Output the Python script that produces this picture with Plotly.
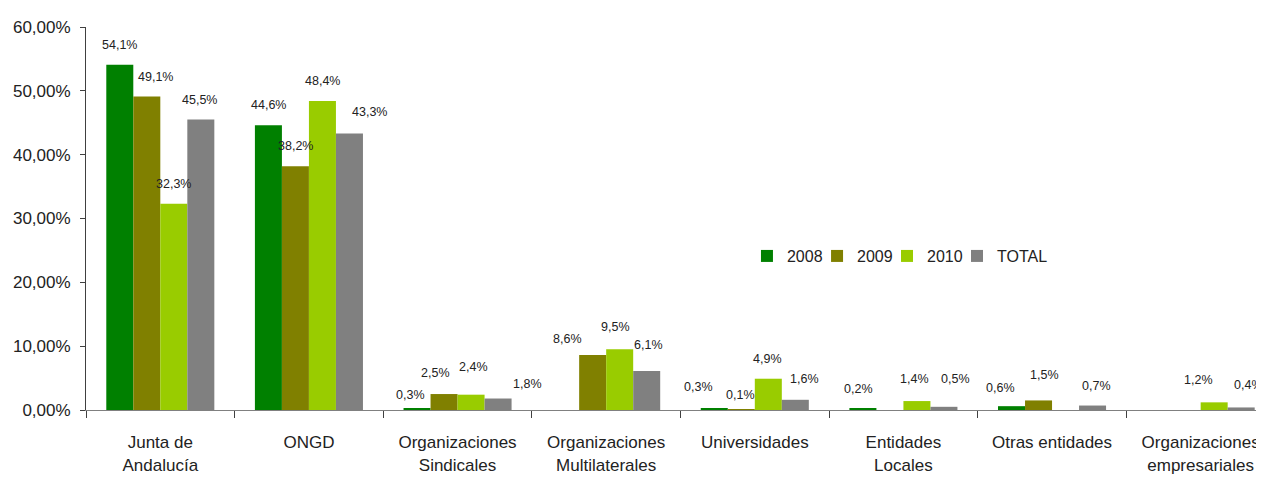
import plotly.graph_objects as go

categories = ["Junta de<br>Andalucía", "ONGD", "Organizaciones<br>Sindicales",
              "Organizaciones<br>Multilaterales", "Universidades", "Entidades<br>Locales",
              "Otras entidades", "Organizaciones<br>empresariales"]
series_names = ["2008", "2009", "2010", "TOTAL"]
v2008 = [54.1, 44.6, 0.3, None, 0.3, 0.2, 0.6, None]
v2009 = [49.1, 38.2, 2.5, 8.6, 0.1, None, 1.5, None]
v2010 = [32.3, 48.4, 2.4, 9.5, 4.9, 1.4, None, 1.2]
vtotal = [45.5, 43.3, 1.8, 6.1, 1.6, 0.5, 0.7, 0.4]
y_tickvals = [0, 10, 20, 30, 40, 50, 60]
y_ticktext = ["0,00%", "10,00%", "20,00%", "30,00%", "40,00%", "50,00%", "60,00%"]

colors = ["#008000", "#808000", "#99CC00", "#808080"]
series = [v2008, v2009, v2010, vtotal]
legend_ids = ["legend", "legend2", "legend3", "legend4"]
legend_x = [0.5573, 0.6164, 0.6754, 0.7344]

# label pixel offsets (dx, dy) per series per category, styling only
label_dx = [
    [0, 0, -7, 0, -16, -4, -11, 0],
    [9, 0, -9, -25, -1, 0, 6, 0],
    [0, 0, 2, -4, -1, -2, 0, -16],
    [-1, 20, 29, 2, 9, 12, 4, 7],
]
label_dy = [
    [20, 20, 13, 20, 21, 20, 18, 20],
    [20, 20, 21, 16, 14, 20, 25, 20],
    [20, 20, 28, 22, 20, 22, 20, 22],
    [20, 22, 15, 26, 21, 28, 20, 22],
]

FONT = "Liberation Sans, Arial, sans-serif"
bargap = 0.273

fig = go.Figure()
for name, vals, col, lg in zip(series_names, series, colors, legend_ids):
    fig.add_trace(go.Bar(x=categories, y=vals, name=name, marker_color=col,
                         marker_line_width=0, legend=lg))

n = len(series)
barw = (1 - bargap) / n
annotations = []
for i, vals in enumerate(series):
    for j, v in enumerate(vals):
        if v is None:
            continue
        annotations.append(dict(
            x=j + (i - (n - 1) / 2) * barw, y=v, xref="x", yref="y",
            text=f"{v:.1f}%".replace(".", ","), showarrow=False,
            xanchor="center", yanchor="middle",
            xshift=label_dx[i][j], yshift=label_dy[i][j],
            font=dict(family=FONT, size=12.5, color="#222222")))

legend_common = dict(orientation="h", yanchor="middle", xanchor="left", y=0.402,
                     font=dict(family=FONT, size=16, color="#222222"),
                     bgcolor="rgba(0,0,0,0)", itemwidth=30)

legends = {lg: dict(x=lx, **legend_common) for lg, lx in zip(legend_ids, legend_x)}

fig.update_layout(
    width=1264, height=480,
    margin=dict(l=78, r=0, t=19, b=78, autoexpand=False),
    paper_bgcolor="white", plot_bgcolor="white",
    barmode="group", bargap=bargap, bargroupgap=0,
    font=dict(family=FONT, size=17, color="#222222"),
    annotations=annotations,
    showlegend=True,
    **legends,
)
fig.update_xaxes(type="category", range=[-0.5, 7.48], showline=True, linecolor="#808080",
                 linewidth=1, ticks="outside", tickson="boundaries", ticklen=7,
                 tickcolor="#404040", showgrid=False, zeroline=False, automargin=False,
                 ticklabelstandoff=17, tickfont=dict(size=17))
fig.update_yaxes(range=[0, 60], tickvals=y_tickvals, ticktext=y_ticktext,
                 showline=True, linecolor="#404040", linewidth=1, ticks="outside",
                 ticklen=5, tickcolor="#404040", showgrid=False, zeroline=False,
                 automargin=False, ticklabelstandoff=6, tickfont=dict(size=17))

fig.write_html("out.html")
